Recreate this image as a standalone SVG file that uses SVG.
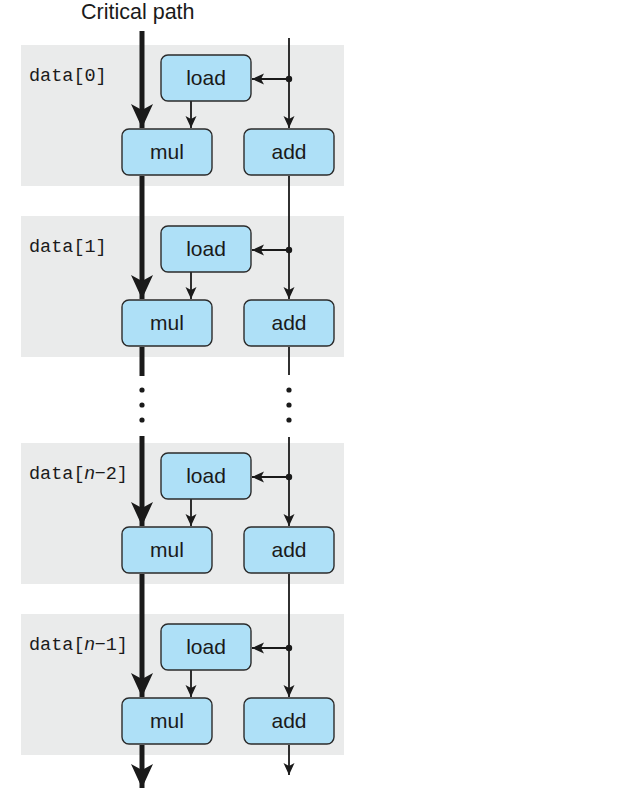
<svg xmlns="http://www.w3.org/2000/svg" width="640" height="803" viewBox="0 0 640 803">
<defs>
<style>
.bg{fill:#EAEBEB}
.box{fill:#AEE0F7;stroke:#2B2B2B;stroke-width:1.4}
.lbl{font-family:"Liberation Sans",Arial,sans-serif;font-size:21px;fill:#1A1A1A;text-anchor:middle}
.mono{font-family:"Liberation Mono","DejaVu Sans Mono",monospace;font-size:18.5px;fill:#1A1A1A}
.it{font-family:"Liberation Sans",Arial,sans-serif;font-style:italic}
.sans{font-family:"Liberation Sans",Arial,sans-serif}
.thick{stroke:#1A1A1A;stroke-width:5;fill:none}
.thin{stroke:#1A1A1A;stroke-width:1.8;fill:none}
.dot{fill:#1A1A1A}
</style>
<marker id="ah" markerWidth="14" markerHeight="12" refX="12" refY="6" orient="auto" markerUnits="userSpaceOnUse">
<path d="M12,6 L0,0.5 L3,6 L0,11.5 Z" fill="#1A1A1A"/>
</marker>
<marker id="big" markerWidth="26" markerHeight="24" refX="24" refY="12" orient="auto" markerUnits="userSpaceOnUse">
<path d="M24,12 L0,1 L6,12 L0,23 Z" fill="#1A1A1A"/>
</marker>
</defs>
<rect width="640" height="803" fill="#FFFFFF"/>
<text x="81" y="19" font-family="'Liberation Sans',Arial,sans-serif" font-size="21.5" fill="#1A1A1A">Critical path</text>

<g id="block0">
<rect class="bg" x="21" y="45" width="323" height="141"/>
<text class="mono" x="29" y="81">data[0]</text>
</g>
<g id="block1">
<rect class="bg" x="21" y="216" width="323" height="141"/>
<text class="mono" x="29" y="252">data[1]</text>
</g>
<g id="block2">
<rect class="bg" x="21" y="443" width="323" height="141"/>
<text class="mono" x="29" y="479">data[<tspan class="it">n</tspan><tspan class="sans">−</tspan>2]</text>
</g>
<g id="block3">
<rect class="bg" x="21" y="614" width="323" height="141"/>
<text class="mono" x="29" y="650">data[<tspan class="it">n</tspan><tspan class="sans">−</tspan>1]</text>
</g>

<g id="connectors">
<!-- critical path -->
<line class="thick" x1="142" y1="31" x2="142" y2="128" marker-end="url(#big)"/>
<line class="thick" x1="142" y1="176" x2="142" y2="299" marker-end="url(#big)"/>
<line class="thick" x1="142" y1="347" x2="142" y2="376"/>
<line class="thick" x1="142" y1="436" x2="142" y2="526" marker-end="url(#big)"/>
<line class="thick" x1="142" y1="574" x2="142" y2="697" marker-end="url(#big)"/>
<line class="thick" x1="142" y1="745" x2="142" y2="788" marker-end="url(#big)"/>
<!-- right chain -->
<line class="thin" x1="289" y1="38" x2="289" y2="128" marker-end="url(#ah)"/>
<line class="thin" x1="289" y1="176" x2="289" y2="299" marker-end="url(#ah)"/>
<line class="thin" x1="289" y1="347" x2="289" y2="375"/>
<line class="thin" x1="289" y1="437" x2="289" y2="526" marker-end="url(#ah)"/>
<line class="thin" x1="289" y1="574" x2="289" y2="697" marker-end="url(#ah)"/>
<line class="thin" x1="289" y1="745" x2="289" y2="775" marker-end="url(#ah)"/>
<!-- branches to load -->
<line class="thin" x1="289" y1="79" x2="252" y2="79" marker-end="url(#ah)"/>
<line class="thin" x1="289" y1="250" x2="252" y2="250" marker-end="url(#ah)"/>
<line class="thin" x1="289" y1="477" x2="252" y2="477" marker-end="url(#ah)"/>
<line class="thin" x1="289" y1="648" x2="252" y2="648" marker-end="url(#ah)"/>
<circle class="dot" cx="289" cy="79" r="3.2"/>
<circle class="dot" cx="289" cy="250" r="3.2"/>
<circle class="dot" cx="289" cy="477" r="3.2"/>
<circle class="dot" cx="289" cy="648" r="3.2"/>
<!-- load to mul -->
<line class="thin" x1="191" y1="101" x2="191" y2="128" marker-end="url(#ah)"/>
<line class="thin" x1="191" y1="272" x2="191" y2="299" marker-end="url(#ah)"/>
<line class="thin" x1="191" y1="499" x2="191" y2="526" marker-end="url(#ah)"/>
<line class="thin" x1="191" y1="670" x2="191" y2="697" marker-end="url(#ah)"/>
<!-- ellipsis dots -->
<circle class="dot" cx="142" cy="390" r="2.6"/>
<circle class="dot" cx="142" cy="405" r="2.6"/>
<circle class="dot" cx="142" cy="420" r="2.6"/>
<circle class="dot" cx="289" cy="390" r="2.6"/>
<circle class="dot" cx="289" cy="405" r="2.6"/>
<circle class="dot" cx="289" cy="420" r="2.6"/>
</g>

<g id="load0"><rect class="box" x="161" y="55" width="90" height="46" rx="7"/><text class="lbl" x="206" y="85">load</text></g>
<g id="mul0"><rect class="box" x="122" y="129" width="90" height="46" rx="7"/><text class="lbl" x="167" y="159">mul</text></g>
<g id="add0"><rect class="box" x="244" y="129" width="90" height="46" rx="7"/><text class="lbl" x="289" y="159">add</text></g>

<g id="load1"><rect class="box" x="161" y="226" width="90" height="46" rx="7"/><text class="lbl" x="206" y="256">load</text></g>
<g id="mul1"><rect class="box" x="122" y="300" width="90" height="46" rx="7"/><text class="lbl" x="167" y="330">mul</text></g>
<g id="add1"><rect class="box" x="244" y="300" width="90" height="46" rx="7"/><text class="lbl" x="289" y="330">add</text></g>

<g id="load2"><rect class="box" x="161" y="453" width="90" height="46" rx="7"/><text class="lbl" x="206" y="483">load</text></g>
<g id="mul2"><rect class="box" x="122" y="527" width="90" height="46" rx="7"/><text class="lbl" x="167" y="557">mul</text></g>
<g id="add2"><rect class="box" x="244" y="527" width="90" height="46" rx="7"/><text class="lbl" x="289" y="557">add</text></g>

<g id="load3"><rect class="box" x="161" y="624" width="90" height="46" rx="7"/><text class="lbl" x="206" y="654">load</text></g>
<g id="mul3"><rect class="box" x="122" y="698" width="90" height="46" rx="7"/><text class="lbl" x="167" y="728">mul</text></g>
<g id="add3"><rect class="box" x="244" y="698" width="90" height="46" rx="7"/><text class="lbl" x="289" y="728">add</text></g>
</svg>
